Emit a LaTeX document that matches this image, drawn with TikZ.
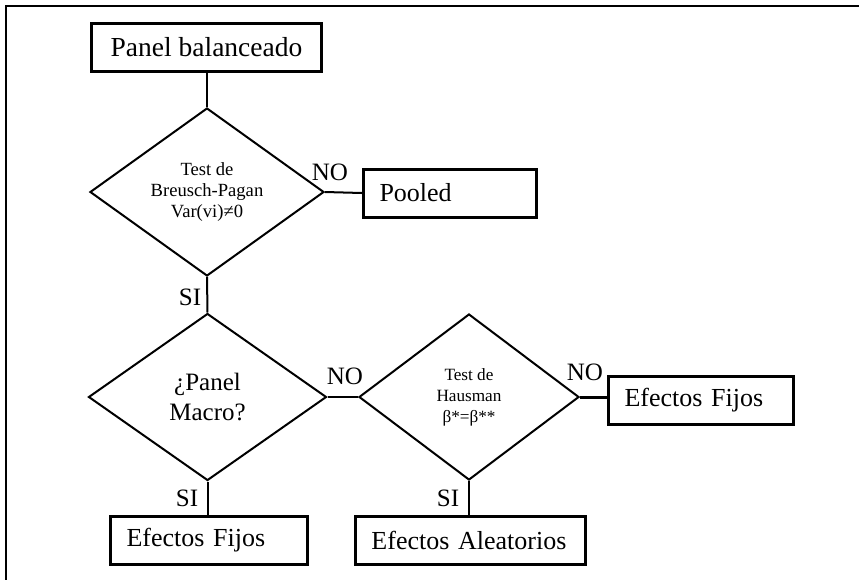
\documentclass[tikz,border=0pt]{standalone}
\usepackage{fontspec}
\setmainfont{Liberation Serif}
\usetikzlibrary{shapes.geometric,calc}
\tikzset{
  flowbox/.style={
    rectangle, draw=black, line width=1.5pt,
    minimum height=24pt, inner xsep=8pt, inner ysep=0pt,
    font=\fontsize{13}{15}\selectfont, align=left,
    text width=#1
  },
  flowbox/.default=70pt,
  decision/.style={
    diamond, draw=black, line width=1pt, aspect=1.4,
    inner sep=0pt, align=center
  },
  branch/.style={font=\fontsize{12.5}{14}\selectfont, inner sep=0pt},
  link/.style={draw=black, line width=1pt},
  frameline/.style={draw=black, line width=1pt},
}

\begin{document}
\begin{tikzpicture}[x=0.5pt, y=-0.5pt]
  \useasboundingbox (0,0) rectangle (859,580);
  % frame of the page
  \draw[frameline] (859,6) -- (6,6) -- (6,580);

  % boxes
  \node[flowbox, align=center, text width=, minimum width=115pt,
        font=\fontsize{13.75}{15}\selectfont] (panel) at (206.5,47.5) {Panel balanceado};
  \node[flowbox=70.5pt] (pooled) at (450,193) {Pooled};
  \node[flowbox=76.5pt] (fijosB) at (701,400) {Efectos Fijos};
  \node[flowbox=99pt] (aleat) at (470.5,540.5) {Efectos Aleatorios};
  \node[flowbox=82.5pt] (fijosA) at (209,540) {Efectos Fijos};

  % decisions
  \node[decision, minimum width=117pt, minimum height=84pt,
        font=\fontsize{9.3}{10.5}\selectfont] (bp) at (207,192)
        {Test de\\Breusch-Pagan\\Var(vi)≠0};
  \node[decision, minimum width=119pt, minimum height=83.5pt,
        font=\fontsize{12.5}{15}\selectfont] (macro) at (207.5,397)
        {¿Panel\\Macro?};
  \node[decision, minimum width=110pt, minimum height=83pt,
        font=\fontsize{8.6}{10.5}\selectfont] (haus) at (469,397)
        {Test de\\Hausman\\β*=β**};

  % connectors
  \draw[link] (panel.south) -- (panel.south |- bp.north);
  \draw[link] (bp.east) -- (pooled.west);
  \draw[link] (bp.south) -- (macro.north);
  \draw[link] (macro.east) -- (haus.west);
  \draw[link, line width=1.5pt] (haus.east) -- (haus.east -| fijosB.west);
  \draw[link] (macro.south) -- (macro.south |- fijosA.north);
  \draw[link] (haus.south) -- (haus.south |- aleat.north);

  % branch labels
  \node[branch] (noBP) at (330,172) {NO};
  \node[branch] (siBP) at (190,297) {SI};
  \node[branch] (noMacro) at (345,376) {NO};
  \node[branch] (siMacro) at (187,498) {SI};
  \node[branch] (noHaus) at (585,372) {NO};
  \node[branch] (siHaus) at (448,498) {SI};
\end{tikzpicture}
\end{document}
